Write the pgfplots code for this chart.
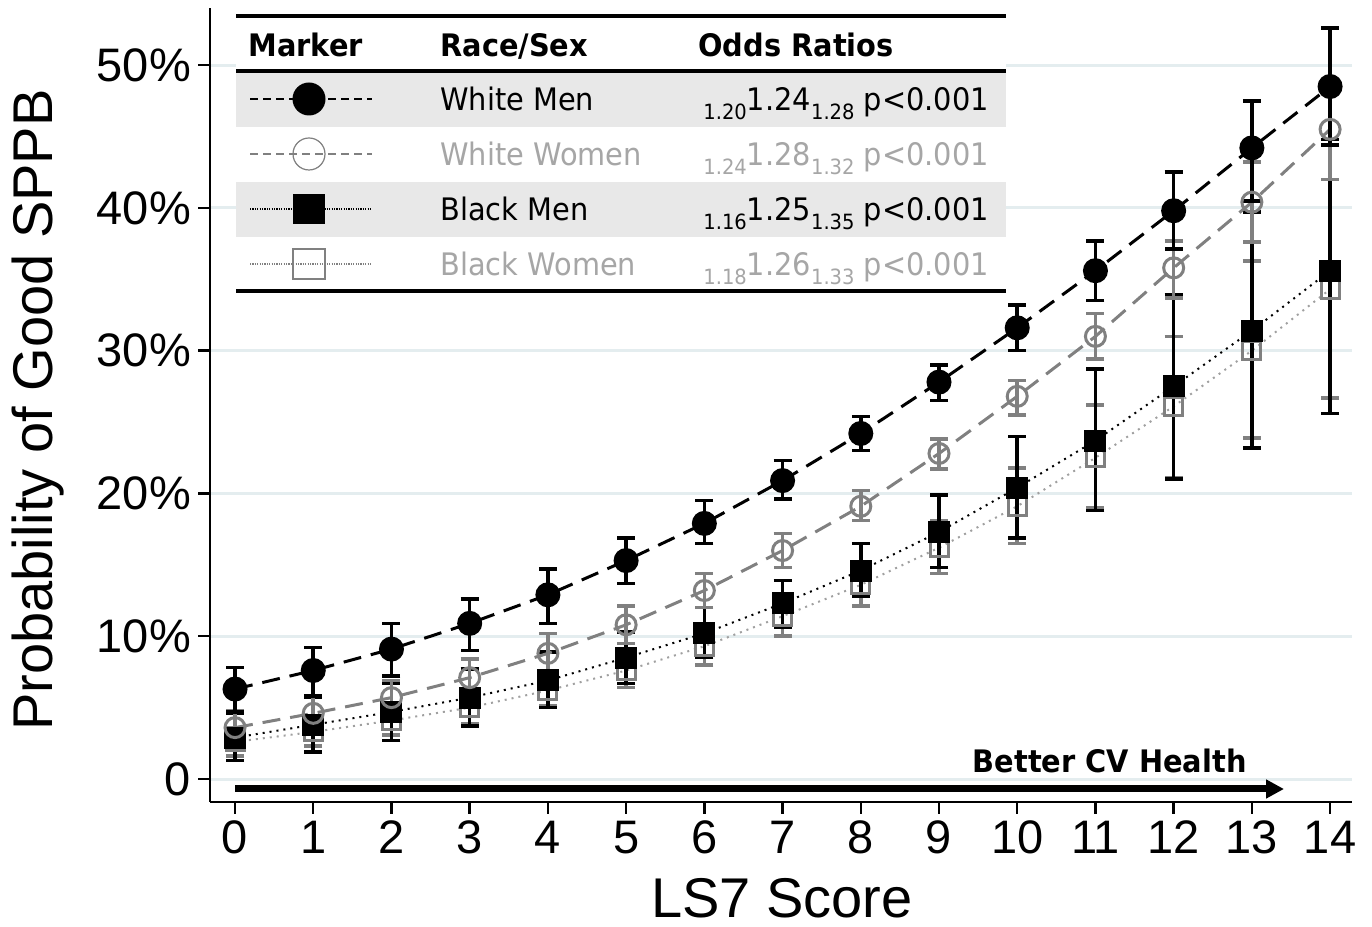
\documentclass[border=0pt]{standalone}
\usepackage{pgfplots}
\pgfplotsset{compat=1.18}
\usepackage{pgfplotstable}
\usepackage{fontspec}
\setmainfont{Liberation Sans}
\newfontfamily\legfont{DejaVu Sans}[FakeStretch=0.93]
\usetikzlibrary{arrows.meta}

\definecolor{gridc}{HTML}{E4EDEF}
\definecolor{midgrey}{HTML}{808080}
\definecolor{lightgrey}{HTML}{A0A0A0}
\definecolor{txtgrey}{HTML}{A6A6A6}
\definecolor{rowshade}{HTML}{E8E8E8}

\pgfplotstableread{
x y lo hi
0 6.3 4.7 7.8
1 7.6 5.8 9.2
2 9.1 7.2 10.9
3 10.9 9.0 12.6
4 12.9 10.9 14.7
5 15.3 13.7 16.9
6 17.9 16.5 19.5
7 20.9 19.6 22.3
8 24.2 23.0 25.4
9 27.8 26.5 29.0
10 31.6 30.0 33.2
11 35.6 33.5 37.7
12 39.8 37.1 42.5
13 44.2 40.5 47.5
14 48.5 44.4 52.6
}\wm

\pgfplotstableread{
x y lo hi
0 3.6 2.4 4.8
1 4.6 3.5 5.8
2 5.7 4.6 6.9
3 7.1 5.8 8.4
4 8.8 7.4 10.2
5 10.8 9.5 12.1
6 13.2 12.0 14.4
7 16.0 14.8 17.2
8 19.1 18.1 20.2
9 22.8 21.7 23.8
10 26.8 25.5 27.9
11 31.0 29.4 32.6
12 35.8 33.7 37.7
13 40.4 37.6 43.2
14 45.5 42.0 48.8
}\ww

\pgfplotstableread{
x y lo hi
0 2.9 1.3 4.6
1 3.8 1.9 5.7
2 4.7 2.7 6.7
3 5.7 3.7 7.7
4 6.9 5.0 8.9
5 8.5 6.7 10.3
6 10.2 8.5 12.0
7 12.3 10.6 13.9
8 14.6 12.8 16.5
9 17.3 14.8 19.9
10 20.4 16.9 24.0
11 23.7 18.8 28.7
12 27.5 21.0 33.9
13 31.4 23.2 39.7
14 35.6 25.6 44.8
}\bm

\pgfplotstableread{
x y lo hi
0 2.6 1.6 3.6
1 3.3 2.3 4.3
2 4.1 3.1 5.1
3 5.0 3.9 6.1
4 6.2 5.1 7.3
5 7.6 6.4 8.8
6 9.3 8.0 10.6
7 11.4 10.0 12.8
8 13.6 12.1 15.1
9 16.2 14.4 18.1
10 19.1 16.5 21.8
11 22.5 19.0 26.2
12 26.1 21.1 31.0
13 30.0 23.9 36.3
14 34.3 26.7 42.0
}\bw

\begin{document}
\begin{tikzpicture}
\path[use as bounding box] (0,0) rectangle (686pt,463.5pt);
\begin{axis}[
  at={(105pt,62.5pt)}, anchor=south west,
  scale only axis, width=571pt, height=397pt,
  xmin=-0.32, xmax=14.28, ymin=-1.61, ymax=54,
  axis x line*=bottom, axis y line*=left,
  axis line style={line width=1.2pt, black},
  xtick={0,1,...,14},
  xticklabels={0,1,2,3,4,5,6,7,8,9,10,11,12,13,14},
  ytick={0,10,20,30,40,50},
  yticklabels={0,10\%,20\%,30\%,40\%,50\%},
  tick align=outside, major tick length=6pt,
  tick style={line width=1.2pt, black},
  ymajorgrids, grid style={gridc, line width=1.5pt},
  ticklabel style={font=\fontsize{23.5}{23.5}\selectfont},
]
% Black Women
\addplot[lightgrey, line width=1pt, dash pattern=on 1pt off 2.5pt,
  mark=square, mark size=4.5pt, mark options={solid, midgrey, line width=1.5pt, fill=white},
  error bars/.cd, y dir=both, y explicit,
  error bar style={midgrey, line width=1.8pt, solid},
  error mark options={rotate=90, mark size=4.5pt, line width=1.8pt, solid, midgrey}]
  table[x=x, y=y, y error plus expr=\thisrow{hi}-\thisrow{y}, y error minus expr=\thisrow{y}-\thisrow{lo}] {\bw};
% Black Men
\addplot[black, line width=1pt, dash pattern=on 1pt off 2.5pt,
  mark=square*, mark size=5pt, mark options={solid, fill=black},
  error bars/.cd, y dir=both, y explicit,
  error bar style={black, line width=1.8pt, solid},
  error mark options={rotate=90, mark size=4.5pt, line width=1.8pt, solid, black}]
  table[x=x, y=y, y error plus expr=\thisrow{hi}-\thisrow{y}, y error minus expr=\thisrow{y}-\thisrow{lo}] {\bm};
% White Women
\addplot[midgrey, line width=1.5pt, dash pattern=on 9pt off 5pt,
  mark=o, mark size=5pt, mark options={solid, line width=1.5pt},
  error bars/.cd, y dir=both, y explicit,
  error bar style={midgrey, line width=1.8pt, solid},
  error mark options={rotate=90, mark size=4.5pt, line width=1.8pt, solid, midgrey}]
  table[x=x, y=y, y error plus expr=\thisrow{hi}-\thisrow{y}, y error minus expr=\thisrow{y}-\thisrow{lo}] {\ww};
% White Men
\addplot[black, line width=1.5pt, dash pattern=on 9pt off 5pt,
  mark=*, mark size=5.5pt, mark options={solid, fill=black},
  error bars/.cd, y dir=both, y explicit,
  error bar style={black, line width=1.8pt, solid},
  error mark options={rotate=90, mark size=4.5pt, line width=1.8pt, solid, black}]
  table[x=x, y=y, y error plus expr=\thisrow{hi}-\thisrow{y}, y error minus expr=\thisrow{y}-\thisrow{lo}] {\wm};
\end{axis}
\begin{scope}[x=0.5pt, y=-0.5pt, shift={(0pt,463.5pt)}]
  % legend box
  \fill[white] (236,14) rectangle (1006,293);
  \fill[rowshade] (236,73) rectangle (1006,127);
  \fill[rowshade] (236,182) rectangle (1006,237);
  \draw[line width=2pt] (236,16) -- (1006,16);
  \draw[line width=2pt] (236,71) -- (1006,71);
  \draw[line width=2pt] (236,291) -- (1006,291);
  \begin{scope}[every node/.style={inner sep=0pt, anchor=base west, font=\legfont\fontsize{15.5}{15.5}\selectfont}]
    \node[font=\legfont\bfseries\fontsize{15.5}{15.5}\selectfont] at (248,56.5) {Marker};
    \node[font=\legfont\bfseries\fontsize{15.5}{15.5}\selectfont] at (440,56.5) {Race/Sex};
    \node[font=\legfont\bfseries\fontsize{15.5}{15.5}\selectfont] at (698,56.5) {Odds Ratios};
    % markers
    \draw[black, line width=0.8pt, dash pattern=on 4pt off 2.5pt] (250,99) -- (372,99);
    \fill[black] (309,99) circle[radius=8.25pt];
    \draw[midgrey, line width=0.8pt, dash pattern=on 4pt off 2.5pt] (250,154) -- (372,154);
    \draw[midgrey, line width=0.6pt] (309,154) circle[radius=8pt];
    \draw[black, line width=0.6pt, dash pattern=on 0.6pt off 0.6pt] (250,209) -- (372,209);
    \fill[black] (293,194) rectangle (325,224);
    \draw[midgrey, line width=0.6pt, dash pattern=on 0.6pt off 0.6pt] (250,264) -- (372,264);
    \draw[midgrey, line width=0.6pt] (293,249) rectangle (325,279);
    % texts
    \node at (440,110.5) {White Men};
    \node[text=txtgrey] at (440,165.5) {White Women};
    \node at (440,220.5) {Black Men};
    \node[text=txtgrey] at (440,275.5) {Black Women};
    \newcommand\OR[3]{\raisebox{-0.3em}{\fontsize{10.5}{10.5}\selectfont #1}#2\raisebox{-0.3em}{\fontsize{10.5}{10.5}\selectfont #3} p<0.001}
    \node at (703,110.5) {\OR{1.20}{1.24}{1.28}};
    \node[text=txtgrey] at (703,165.5) {\OR{1.24}{1.28}{1.32}};
    \node at (703,220.5) {\OR{1.16}{1.25}{1.35}};
    \node[text=txtgrey] at (703,275.5) {\OR{1.18}{1.26}{1.33}};
    \node[anchor=base east, font=\legfont\bfseries\fontsize{15.5}{15.5}\selectfont] at (1247,773) {Better CV Health};
  \end{scope}
  \draw[line width=3.5pt, -{Triangle[length=9pt,width=9pt]}] (235,789) -- (1284,789);
  % axis titles
  \node[inner sep=0pt, anchor=base, font=\fontsize{28}{28}\selectfont] at (782,918) {LS7 Score};
  \node[inner sep=0pt, anchor=base, rotate=90, font=\fontsize{28}{28}\selectfont] at (53,410) {Probability of Good SPPB};
\end{scope}
\end{tikzpicture}
\end{document}
